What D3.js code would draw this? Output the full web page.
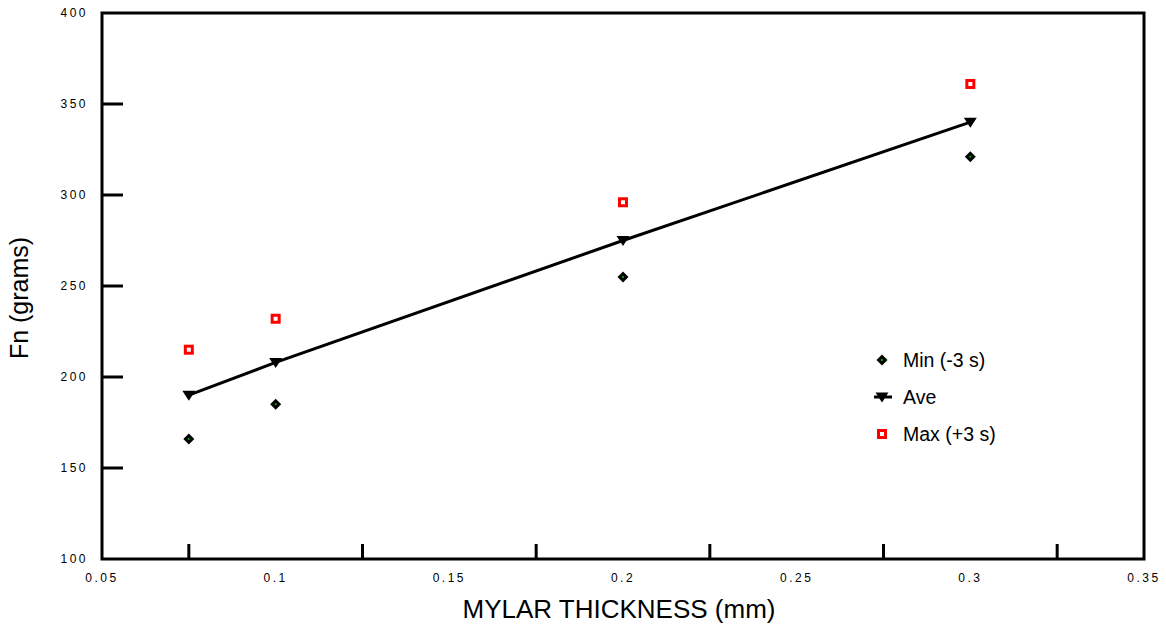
<!DOCTYPE html>
<html>
<head>
<meta charset="utf-8">
<script src="https://cdn.jsdelivr.net/npm/d3@7"></script>
<style>
  body { margin: 0; background: #fff; }
  text { font-family: "Liberation Sans", Arial, sans-serif; }
</style>
</head>
<body>
<div id="chart"></div>
<script>
// Data
const thickness = [0.075, 0.1, 0.2, 0.3];
const minVals = [166, 185, 255, 321];
const aveVals = [190, 208, 275, 340];
const maxVals = [215, 232, 296, 361];
const xTickLabels = [0.05, 0.1, 0.15, 0.2, 0.25, 0.3, 0.35];
const xMarkTicks = [0.075, 0.125, 0.175, 0.225, 0.275, 0.325];
const yTickLabels = [100, 150, 200, 250, 300, 350, 400];
const yMarkTicks = [150, 200, 250, 300, 350];
const legendItems = ["Min (-3 s)", "Ave", "Max (+3 s)"];

const W = 1166, H = 628;
const margin = {top: 13, right: 22, bottom: 69, left: 102};
const width = W - margin.left - margin.right,
      height = H - margin.top - margin.bottom;

const svg = d3.select("#chart").append("svg")
  .attr("width", W).attr("height", H)
  .append("g")
  .attr("transform", "translate(" + margin.left + "," + margin.top + ")");

const x = d3.scaleLinear().domain([0.05, 0.35]).range([0, width]);
const y = d3.scaleLinear().domain([100, 400]).range([height, 0]);

// Frame
svg.append("rect")
  .attr("width", width).attr("height", height)
  .attr("fill", "none").attr("stroke", "#000").attr("stroke-width", 3);

// Inward tick marks
svg.selectAll(".xt").data(xMarkTicks).enter().append("line")
  .attr("x1", d => x(d)).attr("x2", d => x(d))
  .attr("y1", height).attr("y2", height - 15)
  .attr("stroke", "#000").attr("stroke-width", 3);
svg.selectAll(".yt").data(yMarkTicks).enter().append("line")
  .attr("x1", 0).attr("x2", 21)
  .attr("y1", d => y(d)).attr("y2", d => y(d))
  .attr("stroke", "#000").attr("stroke-width", 3);

// Tick labels
svg.selectAll(".xl").data(xTickLabels).enter().append("text")
  .attr("x", d => x(d)).attr("y", height + 23)
  .attr("text-anchor", "middle")
  .attr("font-size", 12).attr("letter-spacing", 2.5)
  .text(d => d);
svg.selectAll(".yl").data(yTickLabels).enter().append("text")
  .attr("x", -14).attr("y", d => y(d) + 4)
  .attr("text-anchor", "end")
  .attr("font-size", 12).attr("letter-spacing", 2.5)
  .text(d => d);

// Axis titles
svg.append("text")
  .attr("x", width / 2 - 4).attr("y", height + 59)
  .attr("text-anchor", "middle").attr("font-size", 26)
  .text("MYLAR THICKNESS (mm)");
svg.append("text")
  .attr("transform", "translate(-74," + (height / 2 + 12) + ") rotate(-90)")
  .attr("text-anchor", "middle").attr("font-size", 25)
  .text("Fn (grams)");

// Average line
const aveData = thickness.map((t, i) => ({x: t, y: aveVals[i]}));
svg.append("path").datum(aveData)
  .attr("fill", "none").attr("stroke", "#000").attr("stroke-width", 3)
  .attr("d", d3.line().x(d => x(d.x)).y(d => y(d.y)));

function triangle(g) {
  g.append("path").attr("d", "M-6.5,-4.5 L6.5,-4.5 L0,5.5 Z").attr("fill", "#000");
}
function diamond(g) {
  g.append("path").attr("d", "M0,-5.5 L5.5,0 L0,5.5 L-5.5,0 Z").attr("fill", "#000");
  g.append("circle").attr("r", 1).attr("fill", "#00c000");
}
function square(g) {
  g.append("rect").attr("x", -3.5).attr("y", -3.5).attr("width", 7).attr("height", 7)
    .attr("fill", "#fff").attr("stroke", "#ff0000").attr("stroke-width", 3);
}

thickness.forEach((t, i) => {
  diamond(svg.append("g").attr("transform", `translate(${x(t)},${y(minVals[i])})`));
  triangle(svg.append("g").attr("transform", `translate(${x(t)},${y(aveVals[i])})`));
  square(svg.append("g").attr("transform", `translate(${x(t)},${y(maxVals[i])})`));
});

// Legend
const lg = svg.append("g").attr("transform", "translate(780,347)");
const markers = [diamond, triangle, square];
legendItems.forEach((label, i) => {
  const row = lg.append("g").attr("transform", `translate(0,${i * 37})`);
  if (i === 1) {
    row.append("line").attr("x1", -8).attr("x2", 10).attr("y1", 0).attr("y2", 0)
      .attr("stroke", "#000").attr("stroke-width", 3);
  }
  markers[i](row);
  row.append("text").attr("x", 21).attr("y", 7).attr("font-size", 19.5).text(label);
});
</script>
</body>
</html>
